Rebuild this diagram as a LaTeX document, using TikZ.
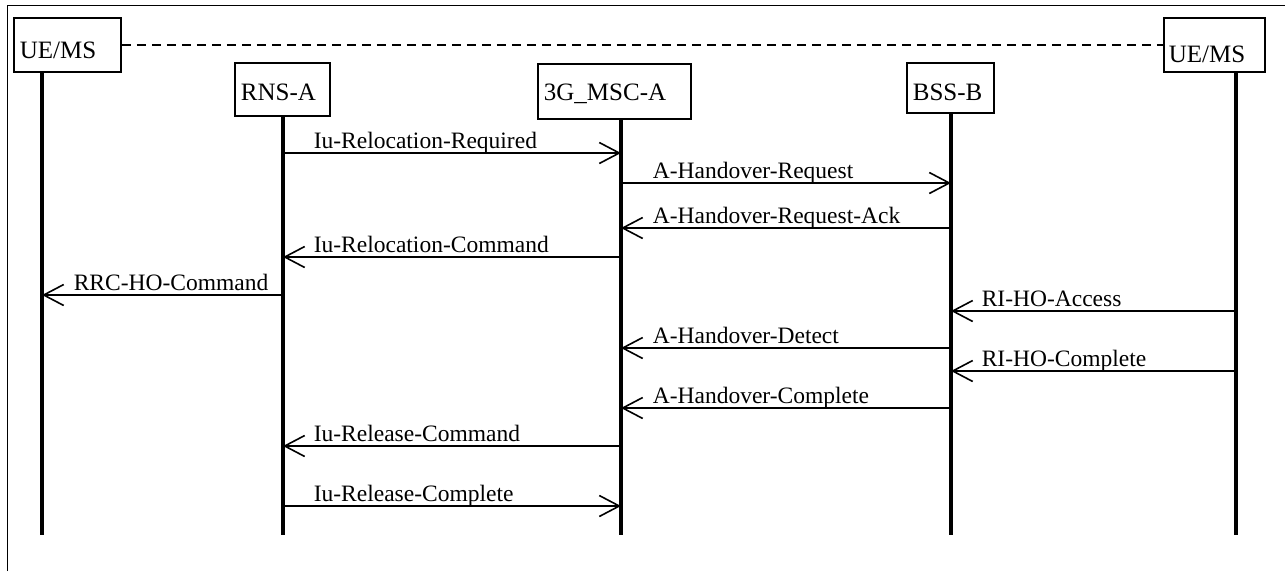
\documentclass[tikz,border=0pt]{standalone}
\usepackage{fontspec}
\setmainfont{Liberation Serif}
\usetikzlibrary{arrows.meta}
\begin{document}
\begin{tikzpicture}[x=1pt,y=-1pt,
  actor/.style={draw, line width=1.8pt, inner xsep=6pt, inner ysep=0pt, align=left,
    anchor=north west, font=\fontsize{25}{30}\selectfont},
  life/.style={line width=3.8pt},
  msg/.style={line width=1.6pt, -{Straight Barb[length=20pt,width=21pt]}},
  lbl/.style={font=\fontsize{23.5}{28}\selectfont, inner sep=0pt, anchor=base west},
  frame/.style={line width=1pt}]
\useasboundingbox (0,0) rectangle (1287,571);
% frame
\coordinate (fTL) at (7,5);
\coordinate (fTR) at (1285,5);
\coordinate (fBL) at (7,571);
\draw[frame] (fBL) -- (fTL) -- (fTR);
% actors
\node[actor, text width=95pt, text height=41pt, text depth=13pt] (ueL) at (13,17) {UE/MS};
\node[actor, text width=83pt, text height=38pt, text depth=15pt] (rns) at (234,62) {RNS-A};
\node[actor, text width=141pt, text height=37pt, text depth=18pt] (msc) at (537,63) {3G\_MSC-A};
\node[actor, text width=75pt, text height=38pt, text depth=12pt] (bss) at (906,62) {BSS-B};
\node[actor, text width=91pt, text height=45pt, text depth=9pt, inner xsep=5pt] (ueR) at (1163,17) {UE/MS};
\draw[line width=1.4pt, dash pattern=on 9pt off 6pt] (ueL.east) -- (ueR.west);
% lifelines
\coordinate (ueLt) at (42,71);   \coordinate (ueLb) at (42,535);
\coordinate (rnst) at (283,115); \coordinate (rnsb) at (283,535);
\coordinate (msct) at (621,119); \coordinate (mscb) at (621,535);
\coordinate (bsst) at (951,112); \coordinate (bssb) at (951,535);
\coordinate (ueRt) at (1236,71); \coordinate (ueRb) at (1236,535);
\foreach \a in {ueL,rns,msc,bss,ueR} \draw[life] (\a t) -- (\a b);
% messages
\draw[msg] (rnst |- 0,153) -- (msct |- 0,153)
  node[lbl, pos=0, xshift=30pt, yshift=5pt] {Iu-Relocation-Required};
\draw[msg] (msct |- 0,183) -- (bsst |- 0,183)
  node[lbl, pos=0, xshift=31pt, yshift=5pt] {A-Handover-Request};
\draw[msg] (bsst |- 0,228) -- (msct |- 0,228)
  node[lbl, pos=1, xshift=31pt, yshift=5pt] {A-Handover-Request-Ack};
\draw[msg] (msct |- 0,257) -- (rnst |- 0,257)
  node[lbl, pos=1, xshift=30pt, yshift=5pt] {Iu-Relocation-Command};
\draw[msg] (rnst |- 0,295) -- (ueLt |- 0,295)
  node[lbl, pos=1, xshift=31pt, yshift=5pt] {RRC-HO-Command};
\draw[msg] (ueRt |- 0,311) -- (bsst |- 0,311)
  node[lbl, pos=1, xshift=30pt, yshift=5pt] {RI-HO-Access};
\draw[msg] (bsst |- 0,348) -- (msct |- 0,348)
  node[lbl, pos=1, xshift=31pt, yshift=5pt] {A-Handover-Detect};
\draw[msg] (ueRt |- 0,371) -- (bsst |- 0,371)
  node[lbl, pos=1, xshift=30pt, yshift=5pt] {RI-HO-Complete};
\draw[msg] (bsst |- 0,408) -- (msct |- 0,408)
  node[lbl, pos=1, xshift=31pt, yshift=5pt] {A-Handover-Complete};
\draw[msg] (msct |- 0,446) -- (rnst |- 0,446)
  node[lbl, pos=1, xshift=30pt, yshift=5pt] {Iu-Release-Command};
\draw[msg] (rnst |- 0,506) -- (msct |- 0,506)
  node[lbl, pos=0, xshift=30pt, yshift=5pt] {Iu-Release-Complete};
\end{tikzpicture}
\end{document}
